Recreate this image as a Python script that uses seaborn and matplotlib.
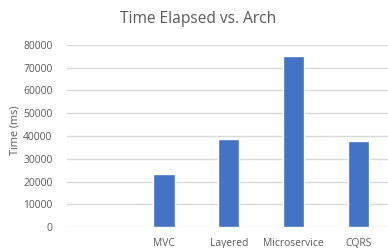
import matplotlib
matplotlib.use("Agg")
import matplotlib.pyplot as plt
import seaborn as sns
import pandas as pd
import numpy as np

categories = ["", "MVC", "Layered", "Microservice", "CQRS"]
times_ms = [np.nan, 23500, 38700, 75000, 38000]

sns.set_theme(style="white")
plt.rcParams['font.family'] = ['Open Sans', 'DejaVu Sans']

df = pd.DataFrame({"Arch": categories, "Time": times_ms})

W, H = 388, 248
fig = plt.figure(figsize=(W / 100, H / 100), dpi=100)
ax = fig.add_axes([66.5 / W, (H - 227.3) / H, (391 - 66.5) / W, (227.3 - 44.7) / H])

sns.barplot(data=df, x="Arch", y="Time", order=categories, color="#4472C4",
            width=0.33, ax=ax, saturation=1)

ax.set_ylim(0, 80000)
ax.set_xlim(-0.5, 4.5)
ax.set_yticks(range(0, 80001, 10000))
ax.yaxis.grid(True, color="#D9D9D9", linewidth=1)
ax.set_axisbelow(True)
for s in ax.spines.values():
    s.set_visible(False)
ax.tick_params(axis="both", length=0, labelsize=7.4, colors="#595959")
ax.tick_params(axis="y", pad=10)
ax.tick_params(axis="x", pad=8)
ax.set_xlabel("")
ax.set_ylabel("Time (ms)", fontsize=7.8, color="#595959", labelpad=1)
ax.yaxis.set_label_coords(-0.142, 0.53)
fig.text(198 / W, 1 - 19 / H, "Time Elapsed vs. Arch", ha="center", va="center",
         fontsize=11.2, color="#595959")

fig.savefig("out.png", dpi=100)
